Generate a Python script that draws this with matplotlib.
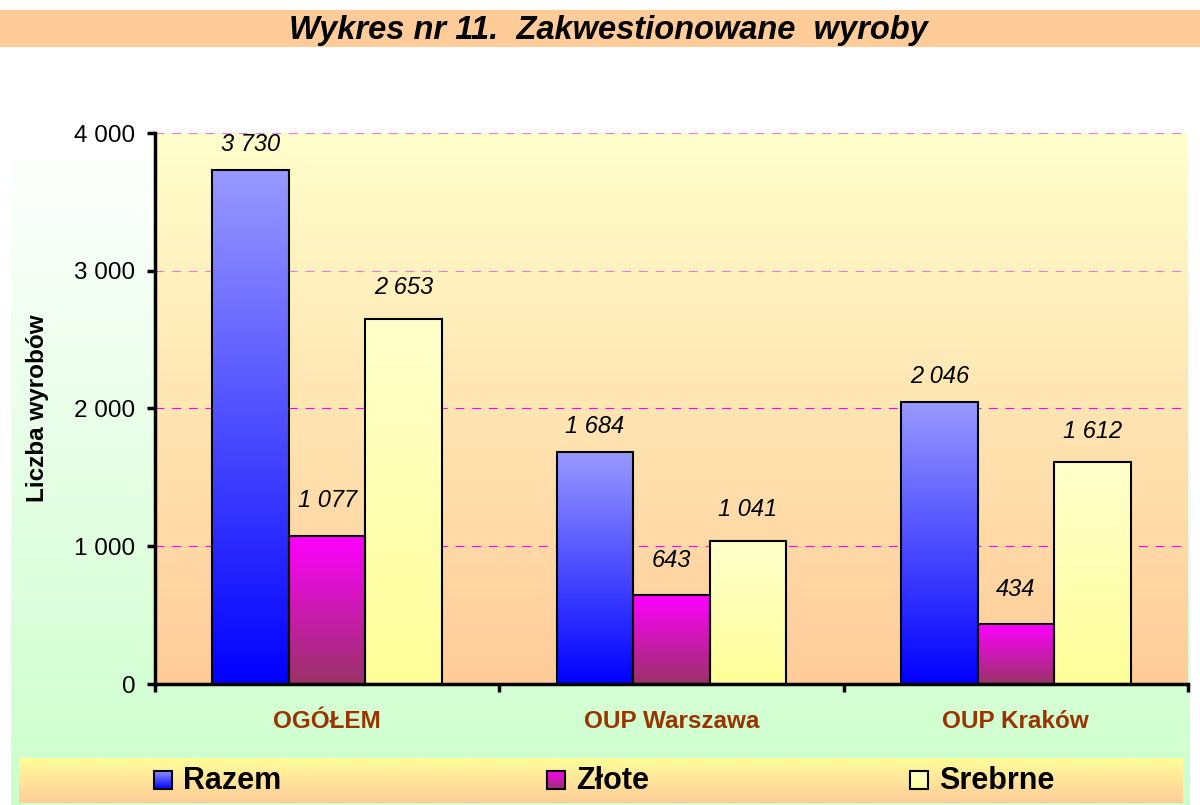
import numpy as np
import matplotlib
matplotlib.use('Agg')
import matplotlib.pyplot as plt
from matplotlib.colors import LinearSegmentedColormap
from matplotlib.patches import Rectangle
from matplotlib.ticker import FuncFormatter

# ---------------- data ----------------
categories = ['OGÓŁEM', 'OUP Warszawa', 'OUP Kraków']
series_names = ['Razem', 'Złote', 'Srebrne']
razem = [3730, 1684, 2046]
zlote = [1077, 643, 434]
srebrne = [2653, 1041, 1612]
y_ticks = [0, 1000, 2000, 3000, 4000]

title = 'Wykres nr 11.  Zakwestionowane  wyroby'
y_label = 'Liczba wyrobów'

plt.rcParams['font.family'] = ['Liberation Sans', 'DejaVu Sans']


def spaced(v, pos=None):
    # thousands separated by a space, like "3 730"
    return f'{int(v):,}'.replace(',', ' ')


def gradient(ax, extent, bottom, top, z, transform=None):
    # vertical colour gradient painted with imshow
    cmap = LinearSegmentedColormap.from_list('g', [bottom, top])
    grad = np.linspace(0, 1, 256).reshape(-1, 1)
    kw = {}
    if transform is not None:
        kw['transform'] = transform
    ax.imshow(grad, cmap=cmap, extent=extent, origin='lower', aspect='auto',
              zorder=z, interpolation='bilinear', **kw)


fig = plt.figure(figsize=(12, 8.05), dpi=100)

# outer chart area (white -> light green)
bg = fig.add_axes([11 / 1200, 0, 1179 / 1200, 660 / 805])
gradient(bg, [0, 1, 0, 1], '#CCFFCC', '#FFFFFF', 0)
bg.set_xlim(0, 1)
bg.set_ylim(0, 1)
bg.axis('off')

# title band
tb = fig.add_axes([0, 1 - 47 / 805, 1, 37 / 805])
tb.set_facecolor('#FFCC99')
tb.set_xticks([])
tb.set_yticks([])
for s in tb.spines.values():
    s.set_visible(False)
tb.text(0.507, 0.45, title, ha='center', va='center', fontsize=23.5,
        fontweight='bold', fontstyle='italic',
        family=['Liberation Sans Narrow', 'Liberation Sans'])

# main plot
ax = fig.add_axes([155 / 1200, 121 / 805, 1033 / 1200, 551 / 805])
gradient(ax, [0, 1, 0, 1], '#FFCC99', '#FFFFCC', 0, transform=ax.transAxes)

grid_colors = ['#FF00FF', '#FF00FF', '#EA7ADA', '#EA7ADA']
for v, c in zip(y_ticks[1:], grid_colors):
    ax.axhline(v, color=c, lw=0.8, ls=(0, (8, 7)), zorder=1, clip_on=False)

x = np.arange(len(categories))
w = 1 / 4.5
series = [razem, zlote, srebrne]
tops = ['#9999FF', '#FF00FF', '#FFFFCC']
bottoms = ['#0000FF', '#993366', '#FFFF99']
pads = [10, 17, 14]
for i, vals in enumerate(series):
    bars = ax.bar(x + (i - 1) * w, vals, w, facecolor='none',
                  edgecolor='black', linewidth=1.5, zorder=3)
    for b in bars:
        gradient(ax, [b.get_x(), b.get_x() + b.get_width(), 0, b.get_height()],
                 bottoms[i], tops[i], 2)
    ax.bar_label(bars, labels=[spaced(v) for v in vals], padding=pads[i],
                 fontsize=17, fontstyle='italic')

ax.set_xlim(-0.5, len(categories) - 0.5)
ax.set_ylim(0, 4000)
ax.spines['top'].set_visible(False)
ax.spines['right'].set_visible(False)
ax.spines['left'].set_linewidth(2.5)
ax.spines['bottom'].set_linewidth(2.5)

ax.set_xticks(x, categories)
ax.set_xticks(np.arange(len(categories) + 1) - 0.5, minor=True)
ax.tick_params(axis='x', which='major', length=0, pad=19, labelsize=17.5,
               labelcolor='#993300')
for lbl in ax.get_xticklabels():
    lbl.set_fontweight('bold')
ax.tick_params(axis='x', which='minor', length=6, width=2.5, direction='out')

ax.set_yticks(y_ticks)
ax.yaxis.set_major_formatter(FuncFormatter(spaced))
ax.tick_params(axis='y', length=6, width=2.5, pad=8, labelsize=17.5)

ax.set_ylabel(y_label, fontsize=17.5, fontweight='bold')
ax.yaxis.set_label_coords(-0.1026, 0.5)

# legend band
lg = fig.add_axes([19 / 1200, 2 / 805, 1164 / 1200, 45 / 805])
gradient(lg, [0, 1164, 0, 45], '#FFCC99', '#FFFF99', 0)
lg.set_xlim(0, 1164)
lg.set_ylim(0, 45)
lg.axis('off')
legend_x = [135, 528, 891]
for name, lx, bt, tp in zip(series_names, legend_x, bottoms, tops):
    gradient(lg, [lx, lx + 18, 14, 32], bt, tp, 2)
    lg.add_patch(Rectangle((lx, 14), 18, 18, facecolor='none',
                           edgecolor='black', lw=1.5, zorder=3))
    lg.text(lx + 29, 22, name, fontsize=22, fontweight='bold', va='center')

fig.savefig('out.png', dpi=100)
